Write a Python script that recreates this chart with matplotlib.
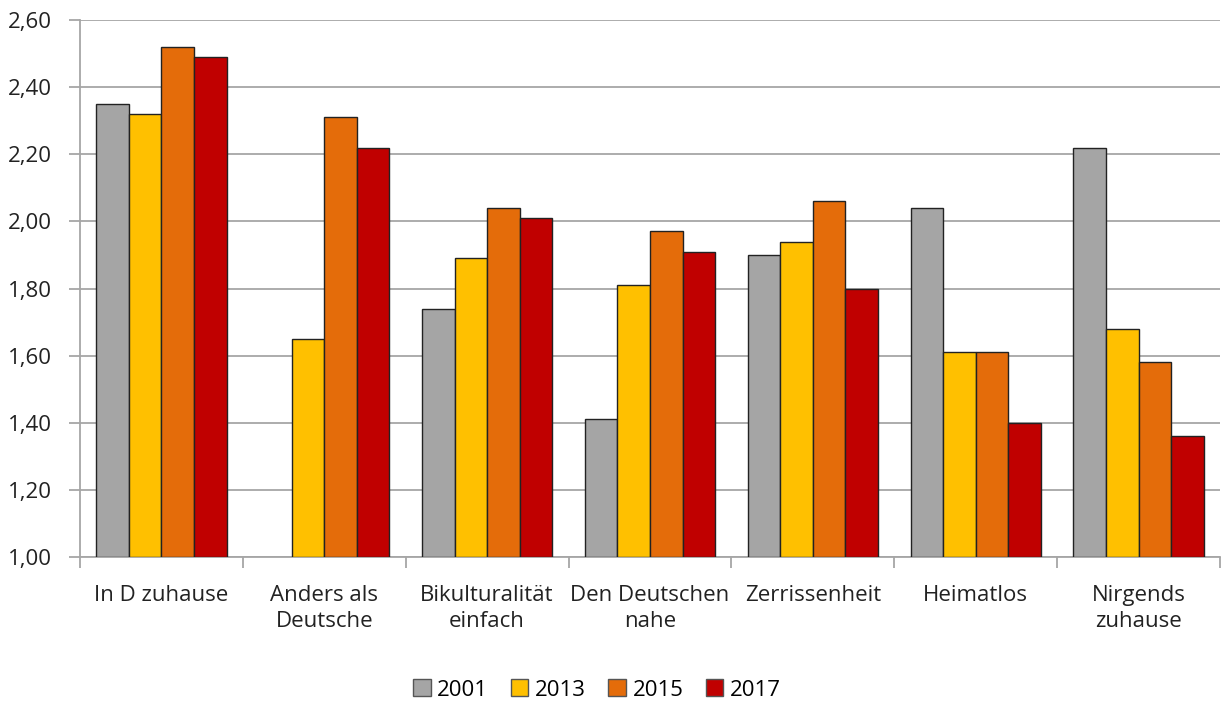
import matplotlib
matplotlib.use("Agg")
import matplotlib.pyplot as plt
import numpy as np

categories = ["In D zuhause", "Anders als\nDeutsche", "Bikulturalität\neinfach", "Den Deutschen\nnahe",
              "Zerrissenheit", "Heimatlos", "Nirgends\nzuhause"]
years = ["2001", "2013", "2015", "2017"]
v2001 = [2.35, np.nan, 1.74, 1.41, 1.90, 2.04, 2.22]
v2013 = [2.32, 1.65, 1.89, 1.81, 1.94, 1.61, 1.68]
v2015 = [2.52, 2.31, 2.04, 1.97, 2.06, 1.61, 1.58]
v2017 = [2.49, 2.22, 2.01, 1.91, 1.80, 1.40, 1.36]
yticks = [1.0, 1.2, 1.4, 1.6, 1.8, 2.0, 2.2, 2.4, 2.6]

series = [v2001, v2013, v2015, v2017]
colors = ["#A5A5A5", "#FFC000", "#E46C0A", "#C00000"]

plt.rcParams['font.family'] = ['Open Sans', 'DejaVu Sans']
fig = plt.figure(figsize=(12.22, 7.02), dpi=100)
ax = fig.add_axes([80/1222, 1-557/702, 1140/1222, 537/702])

x = np.arange(len(categories))
w = 0.2
for i, (vals, c, lab) in enumerate(zip(series, colors, years)):
    vals = np.array(vals, dtype=float)
    heights = vals - 1.0
    ax.bar(x + (i - 1.5) * w, heights, w, bottom=1.0, color=c, edgecolor="#222222",
           linewidth=1.0, label=lab, zorder=3)

ax.set_xlim(-0.5, len(categories) - 0.5)
ax.set_ylim(1.0, 2.6)
ax.set_yticks(yticks)
ax.set_yticklabels([f"{t:.2f}".replace(".", ",") for t in yticks], fontsize=16, color="#222222")
ax.yaxis.grid(True, color="#A6A6A6", linewidth=1.3, zorder=0)
ax.set_axisbelow(True)

ax.set_xticks(x)
ax.set_xticklabels(categories, fontsize=16, color="#222222", linespacing=1.3)
ax.tick_params(axis="x", length=0, pad=20)
ax.set_xticks(np.arange(-0.5, len(categories)), minor=True)
ax.tick_params(axis="x", which="minor", length=8, color="#A6A6A6", width=1.3)
ax.tick_params(axis="y", length=8, color="#A6A6A6", width=1.3, pad=12)

for s in ["top", "right"]:
    ax.spines[s].set_visible(False)
for s in ["left", "bottom"]:
    ax.spines[s].set_color("#A6A6A6")
    ax.spines[s].set_linewidth(1.3)

leg = fig.legend(loc="center", bbox_to_anchor=(597/1222, 1-690/702), ncol=4, frameon=False,
                 fontsize=16, handlelength=0.8, handleheight=0.8, handletextpad=0.3,
                 columnspacing=1.0)
for h in leg.legend_handles:
    h.set_edgecolor("#555555")

fig.savefig("out.png", dpi=100)
